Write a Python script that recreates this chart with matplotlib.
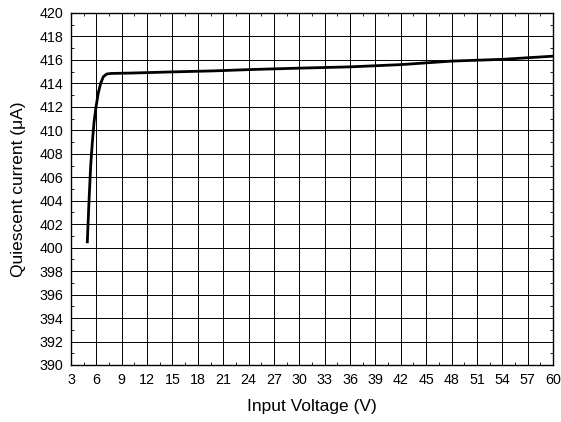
import matplotlib
matplotlib.use("Agg")
import matplotlib.pyplot as plt
from matplotlib.ticker import MultipleLocator

plt.rcParams['font.family'] = ['Liberation Sans', 'DejaVu Sans']

voltage = [4.93, 5.13, 5.33, 5.52, 5.72, 5.96, 6.23, 6.51, 6.82, 7.22, 7.8, 10, 15, 20,
           24.2, 30, 36, 42, 48, 54, 60]
current = [400.5, 404.0, 407.0, 408.95, 410.65, 412.0, 413.2, 414.0, 414.57, 414.8, 414.85,
           414.88, 414.98, 415.07, 415.18, 415.3, 415.41, 415.6, 415.9, 416.05, 416.32]

x_ticks = list(range(3, 61, 3))
y_ticks = list(range(390, 421, 2))

fig = plt.figure(figsize=(5.61, 4.22), dpi=100)
ax = fig.add_axes([71/561, 57/422, 482/561, 352/422])

ax.plot(voltage, current, color='black', lw=2.0, solid_joinstyle='round', zorder=3)

ax.set_xlim(3, 60)
ax.set_ylim(390, 420)
ax.set_xticks(x_ticks)
ax.set_yticks(y_ticks)
ax.xaxis.set_minor_locator(MultipleLocator(1.5))
ax.yaxis.set_minor_locator(MultipleLocator(1))
ax.grid(True, which='major', color='black', lw=0.7)
ax.tick_params(which='major', length=0, labelsize=10.3, pad=5.5)
ax.tick_params(which='minor', direction='in', length=2, width=0.6, top=True, right=True)
for s in ax.spines.values():
    s.set_linewidth(1.0)

ax.set_xlabel('Input Voltage (V)', fontsize=12.5, labelpad=9)
ax.set_ylabel('Quiescent current (\u03bcA)', fontsize=12.5, labelpad=10)

fig.savefig('out.png', dpi=100)
